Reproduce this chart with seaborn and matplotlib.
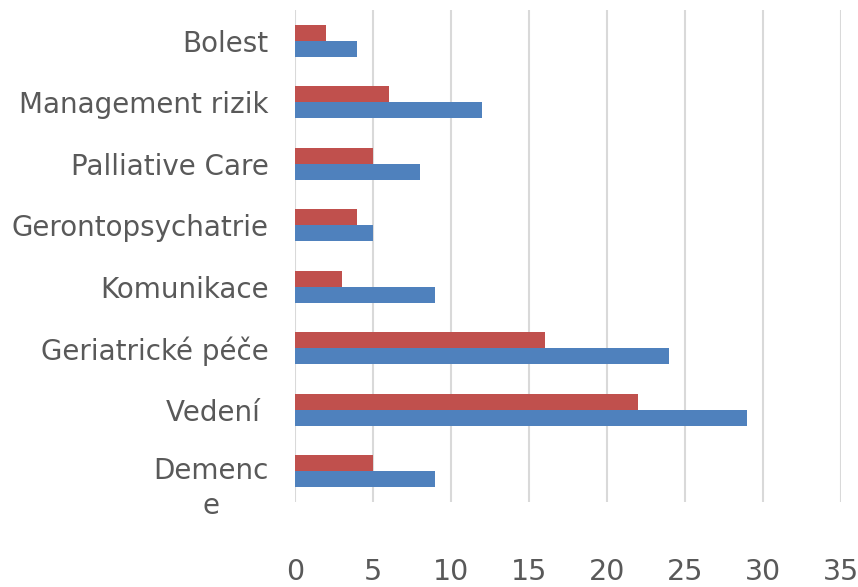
import pandas as pd
import seaborn as sns
import matplotlib.pyplot as plt
from matplotlib.transforms import ScaledTranslation

# Categories listed top to bottom as they appear on the chart
categories = ["Bolest", "Management rizik", "Palliative Care", "Gerontopsychatrie",
              "Komunikace", "Geriatrické péče", "Vedení ", "Demenc\ne"]
series_blue = [4, 12, 8, 5, 9, 24, 29, 9]
series_red = [2, 6, 5, 4, 3, 16, 22, 5]
x_ticks = [0, 5, 10, 15, 20, 25, 30, 35]

# Long-form table for seaborn
df = pd.DataFrame({
    "kategorie": categories * 2,
    "hodnota": series_red + series_blue,
    "rada": ["Řada 2"] * len(categories) + ["Řada 1"] * len(categories),
})

sns.set_style("white")
plt.rcParams["font.family"] = ["DejaVu Sans"]

fig = plt.figure(figsize=(8.58, 5.87), dpi=100)
ax = fig.add_axes([0.3438, 0.1448, 0.6362, 0.8382])

sns.barplot(data=df, y="kategorie", x="hodnota", hue="rada",
            order=categories, hue_order=["Řada 2", "Řada 1"],
            palette={"Řada 1": "#4F81BD", "Řada 2": "#C0504D"},
            orient="h", width=0.52, saturation=1, linewidth=0,
            legend=False, ax=ax)

ax.set_xlim(0, 35)
ax.set_xticks(x_ticks)
ax.grid(axis="x", color="#D9D9D9", linewidth=1.5)
ax.set_axisbelow(True)
for s in ax.spines.values():
    s.set_visible(False)

ax.set_xlabel("")
ax.set_ylabel("")
ax.tick_params(axis="x", length=0, pad=40, labelsize=20.5, labelcolor="#595959")
ax.tick_params(axis="y", length=0, pad=19, labelsize=20, labelcolor="#595959")

# wrapped label: first line sits on the group centre, the rest hangs below
for lbl in ax.get_yticklabels():
    if "\n" in lbl.get_text():
        lbl.set_multialignment("center")
        lbl.set_linespacing(1.35)
        lbl.set_va("top")
        lbl.set_transform(lbl.get_transform() + ScaledTranslation(0, 10.5 / 72, fig.dpi_scale_trans))

fig.savefig("out.png", dpi=100)
